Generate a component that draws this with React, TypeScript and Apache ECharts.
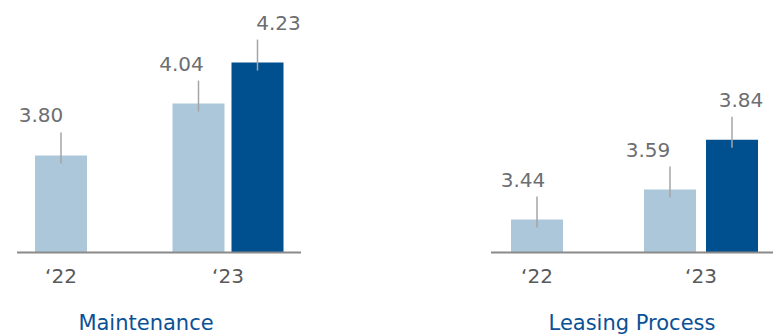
import React, { useEffect, useRef } from "react";
import * as echarts from "echarts";

// ---- data ----
const categories = ["\u201822", "\u201823"];
const panelTitles = ["Maintenance", "Leasing Process"];
const maintenanceLight = [3.8, 4.04];
const maintenanceDark: (number | null)[] = [null, 4.23];
const leasingLight = [3.44, 3.59];
const leasingDark: (number | null)[] = [null, 3.84];

// ---- style ----
const LIGHT = "#abc7d9";
const DARK = "#004f8f";
const LABEL_GRAY = "#6d6e71";
const AXIS_GRAY = "#58595b";
const TITLE_BLUE = "#0a5196";
const FONT = "DejaVu Sans";
const BAR_W = 52;

type Panel = {
  light: (number | null)[];
  dark: (number | null)[];
  gap: number;
  labelShift: number[];
  grid: { left: number; width: number };
  yMin: number;
  yMax: number;
  base: [number, number];
  titleX: number;
};

const panels: Panel[] = [
  {
    light: maintenanceLight,
    dark: maintenanceDark,
    gap: 7,
    labelShift: [-20, -17, 21],
    grid: { left: 61, width: 167 },
    yMin: 3.35,
    yMax: 4.52,
    base: [17, 301],
    titleX: 146,
  },
  {
    light: leasingLight,
    dark: leasingDark,
    gap: 10,
    labelShift: [-14, -22, 9],
    grid: { left: 537, width: 164 },
    yMin: 3.275,
    yMax: 4.54,
    base: [491, 773],
    titleX: 632,
  },
];

const AXIS_Y = 252.5;

function buildItems(p: Panel) {
  const items: any[] = [];
  let k = 0;
  categories.forEach((_, i) => {
    const paired = p.light[i] != null && p.dark[i] != null ? 1 : 0;
    if (p.light[i] != null) items.push({ value: [i, p.light[i], 0, paired, k++] });
    if (p.dark[i] != null) items.push({ value: [i, p.dark[i], 1, paired, k++] });
  });
  return items;
}

export default function App() {
  const ref = useRef<HTMLDivElement>(null);
  useEffect(() => {
    if (!ref.current) return;
    const chart = echarts.init(ref.current, null, { renderer: "svg" });
    const grids = panels.map((p) => ({
      left: p.grid.left,
      width: p.grid.width,
      top: 0,
      height: AXIS_Y,
    }));
    const xAxes = panels.map((_, gi) => ({
      type: "category",
      gridIndex: gi,
      data: categories,
      boundaryGap: false,
      axisLine: { show: false },
      axisTick: { show: false },
      splitLine: { show: false },
      axisLabel: {
        color: AXIS_GRAY,
        fontFamily: FONT,
        fontSize: 20,
        margin: 13,
        showMinLabel: true,
        showMaxLabel: true,
        interval: 0,
      },
    }));
    const yAxes = panels.map((p, gi) => ({
      type: "value",
      gridIndex: gi,
      min: p.yMin,
      max: p.yMax,
      show: false,
      splitLine: { show: false },
    }));
    const series = panels.map((p, gi) => ({
      type: "custom",
      xAxisIndex: gi,
      yAxisIndex: gi,
      clip: false,
      data: buildItems(p),
      renderItem: (params: any, api: any) => {
        const ci = api.value(0);
        const v = api.value(1);
        const kind = api.value(2);
        const paired = api.value(3);
        const idx = api.value(4);
        const top = api.coord([ci, v]);
        const baseY = api.coord([ci, p.yMin])[1];
        const off = (BAR_W + p.gap) / 2;
        const dx = paired ? (kind === 0 ? -off : off) : 0;
        const cx = top[0] + dx;
        return {
          type: "group",
          children: [
            {
              type: "rect",
              shape: { x: cx - BAR_W / 2, y: top[1], width: BAR_W, height: baseY - top[1] },
              style: { fill: kind === 0 ? LIGHT : DARK },
            },
            {
              type: "line",
              shape: { x1: cx, y1: top[1] - 23, x2: cx, y2: top[1] + 8 },
              style: { stroke: "#a3a4a6", lineWidth: 1.5 },
            },
            {
              type: "text",
              x: cx + p.labelShift[idx],
              y: top[1] - 40,
              style: {
                text: Number(v).toFixed(2),
                align: "center",
                verticalAlign: "middle",
                fill: LABEL_GRAY,
                fontFamily: FONT,
                fontSize: 20,
              },
            },
          ],
        };
      },
    }));
    const graphic: any[] = [];
    panels.forEach((p, gi) => {
      graphic.push({
        type: "line",
        shape: { x1: p.base[0], y1: AXIS_Y, x2: p.base[1], y2: AXIS_Y },
        style: { stroke: "#8a8a8a", lineWidth: 2 },
        z: 10,
      });
      graphic.push({
        type: "text",
        x: p.titleX,
        y: 323,
        style: {
          text: panelTitles[gi],
          align: "center",
          verticalAlign: "middle",
          fill: TITLE_BLUE,
          fontFamily: FONT,
          fontSize: 21,
        },
      });
    });
    chart.setOption({
      animation: false,
      grid: grids,
      xAxis: xAxes,
      yAxis: yAxes,
      series,
      graphic,
    });
    return () => chart.dispose();
  }, []);
  return (
    <div
      ref={ref}
      style={{ position: "absolute", left: 0, top: 0, width: 778, height: 335 }}
    />
  );
}
